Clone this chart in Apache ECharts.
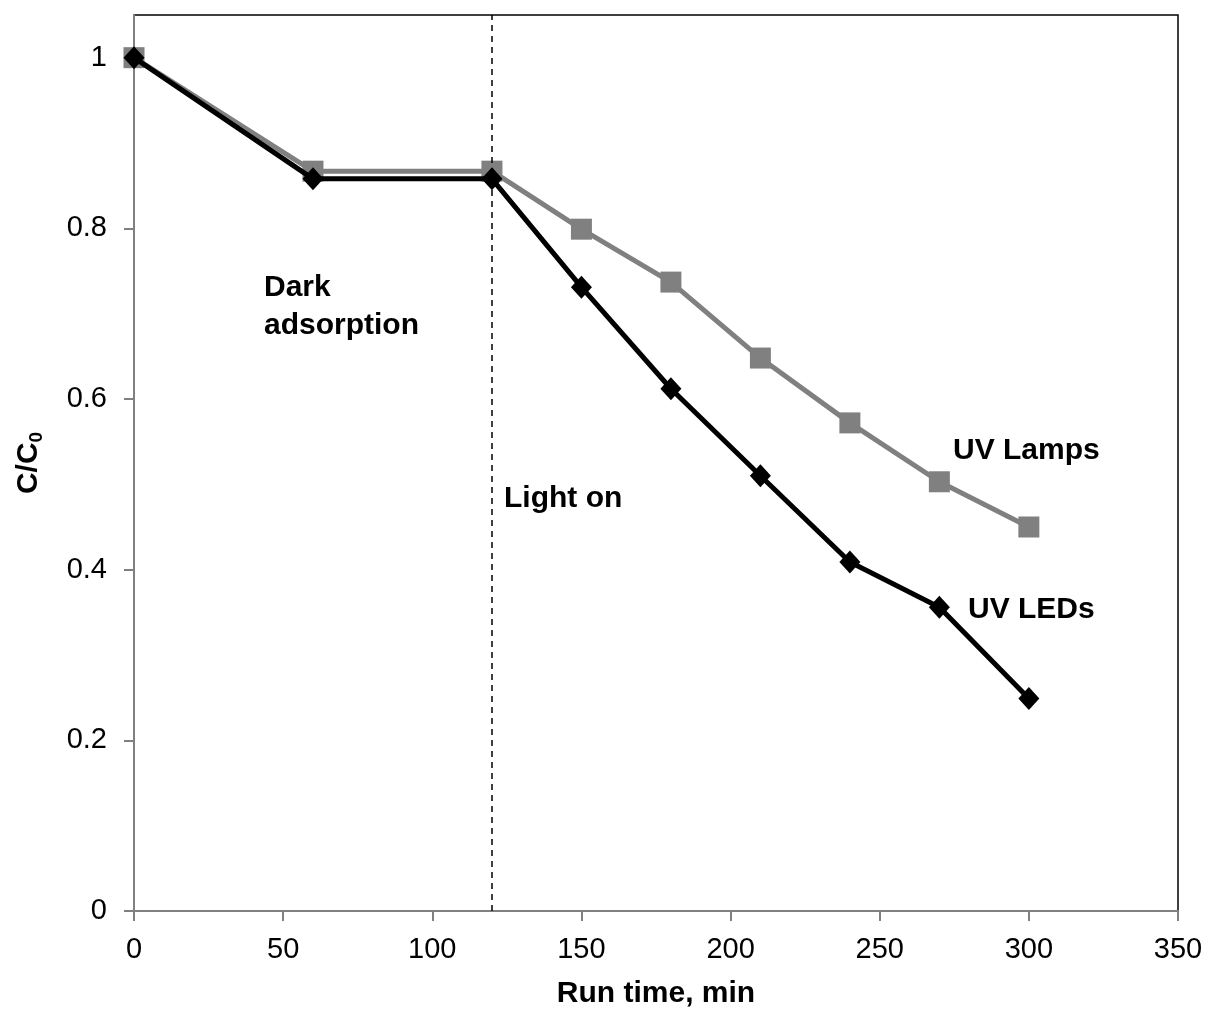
<!DOCTYPE html>
<html><head><meta charset="utf-8">
<script src="https://cdn.jsdelivr.net/npm/echarts@6/dist/echarts.min.js"></script>
<style>html,body{margin:0;padding:0;background:#fff}#c{width:1211px;height:1014px}</style>
</head><body><div id="c"></div>
<script>
const times = [0, 60, 120, 150, 180, 210, 240, 270, 300];
const uvLamps = [1.0, 0.867, 0.867, 0.799, 0.737, 0.648, 0.572, 0.503, 0.450];
const uvLEDs = [1.0, 0.858, 0.858, 0.731, 0.612, 0.510, 0.409, 0.356, 0.249];
const xTicks = [0, 50, 100, 150, 200, 250, 300, 350];
const yTicks = [0, 0.2, 0.4, 0.6, 0.8, 1];
const lightOnTime = 120;

const chart = echarts.init(document.getElementById('c'), null, {renderer: 'canvas'});
const font = '"Liberation Sans", Arial, sans-serif';
const pair = (xs, ys) => xs.map((x, i) => [x, ys[i]]);

chart.setOption({
  animation: false,
  backgroundColor: '#fff',
  grid: {left: 134, right: 33, top: 15, bottom: 102, show: true, borderColor: '#000', borderWidth: 1.5},
  xAxis: {
    type: 'value', min: 0, max: 350, interval: 50,
    name: 'Run time, min', nameLocation: 'middle', nameGap: 68,
    nameTextStyle: {fontFamily: font, fontSize: 30, fontWeight: 'bold', color: '#000'},
    axisLine: {show: true, lineStyle: {color: '#808080', width: 2}},
    axisTick: {show: true, length: 10, lineStyle: {color: '#808080', width: 2}},
    axisLabel: {fontFamily: font, fontSize: 29, color: '#000', margin: 24,
      formatter: v => xTicks.includes(v) ? String(v) : ''},
    splitLine: {show: false}
  },
  yAxis: {
    type: 'value', min: 0, max: 1.05, interval: 0.2,
    name: 'C/C{sub|0}', nameLocation: 'middle', nameGap: 88, nameRotate: 90,
    nameTextStyle: {fontFamily: font, fontSize: 30, fontWeight: 'bold', color: '#000',
      rich: {sub: {fontFamily: font, fontSize: 19, fontWeight: 'bold', color: '#000', verticalAlign: 'bottom', padding: [16, 0, 0, 0]}}},
    axisLine: {show: true, lineStyle: {color: '#808080', width: 2}},
    axisTick: {show: true, length: 10, lineStyle: {color: '#808080', width: 2}},
    axisLabel: {fontFamily: font, fontSize: 29, color: '#000', margin: 27, showMaxLabel: false,
      formatter: v => { const r = Math.round(v * 10) / 10; return yTicks.some(t => Math.abs(t - v) < 1e-6) ? String(r) : ''; }},
    splitLine: {show: false}
  },
  series: [
    {
      name: 'UV Lamps', type: 'line', data: pair(times, uvLamps),
      symbol: 'rect', symbolSize: 21,
      lineStyle: {color: '#808080', width: 5},
      itemStyle: {color: '#808080'},
      z: 2,
      markLine: {
        silent: true, symbol: 'none', label: {show: false},
        lineStyle: {color: '#000', type: [6, 5], width: 1.5},
        data: [{xAxis: lightOnTime}]
      }
    },
    {
      name: 'UV LEDs', type: 'line', data: pair(times, uvLEDs),
      symbol: 'diamond', symbolSize: [21, 23],
      lineStyle: {color: '#000', width: 5},
      itemStyle: {color: '#000'},
      z: 3
    }
  ],
  graphic: [
    {type: 'text', left: 264, top: 269, style: {text: 'Dark\nadsorption', font: 'bold 30px ' + font, fill: '#000', lineHeight: 38}},
    {type: 'text', left: 504, top: 484, style: {text: 'Light on', font: 'bold 30px ' + font, fill: '#000'}},
    {type: 'text', left: 953, top: 436, style: {text: 'UV Lamps', font: 'bold 30px ' + font, fill: '#000'}},
    {type: 'text', left: 968, top: 595, style: {text: 'UV LEDs', font: 'bold 30px ' + font, fill: '#000'}}
  ]
});
</script></body></html>
